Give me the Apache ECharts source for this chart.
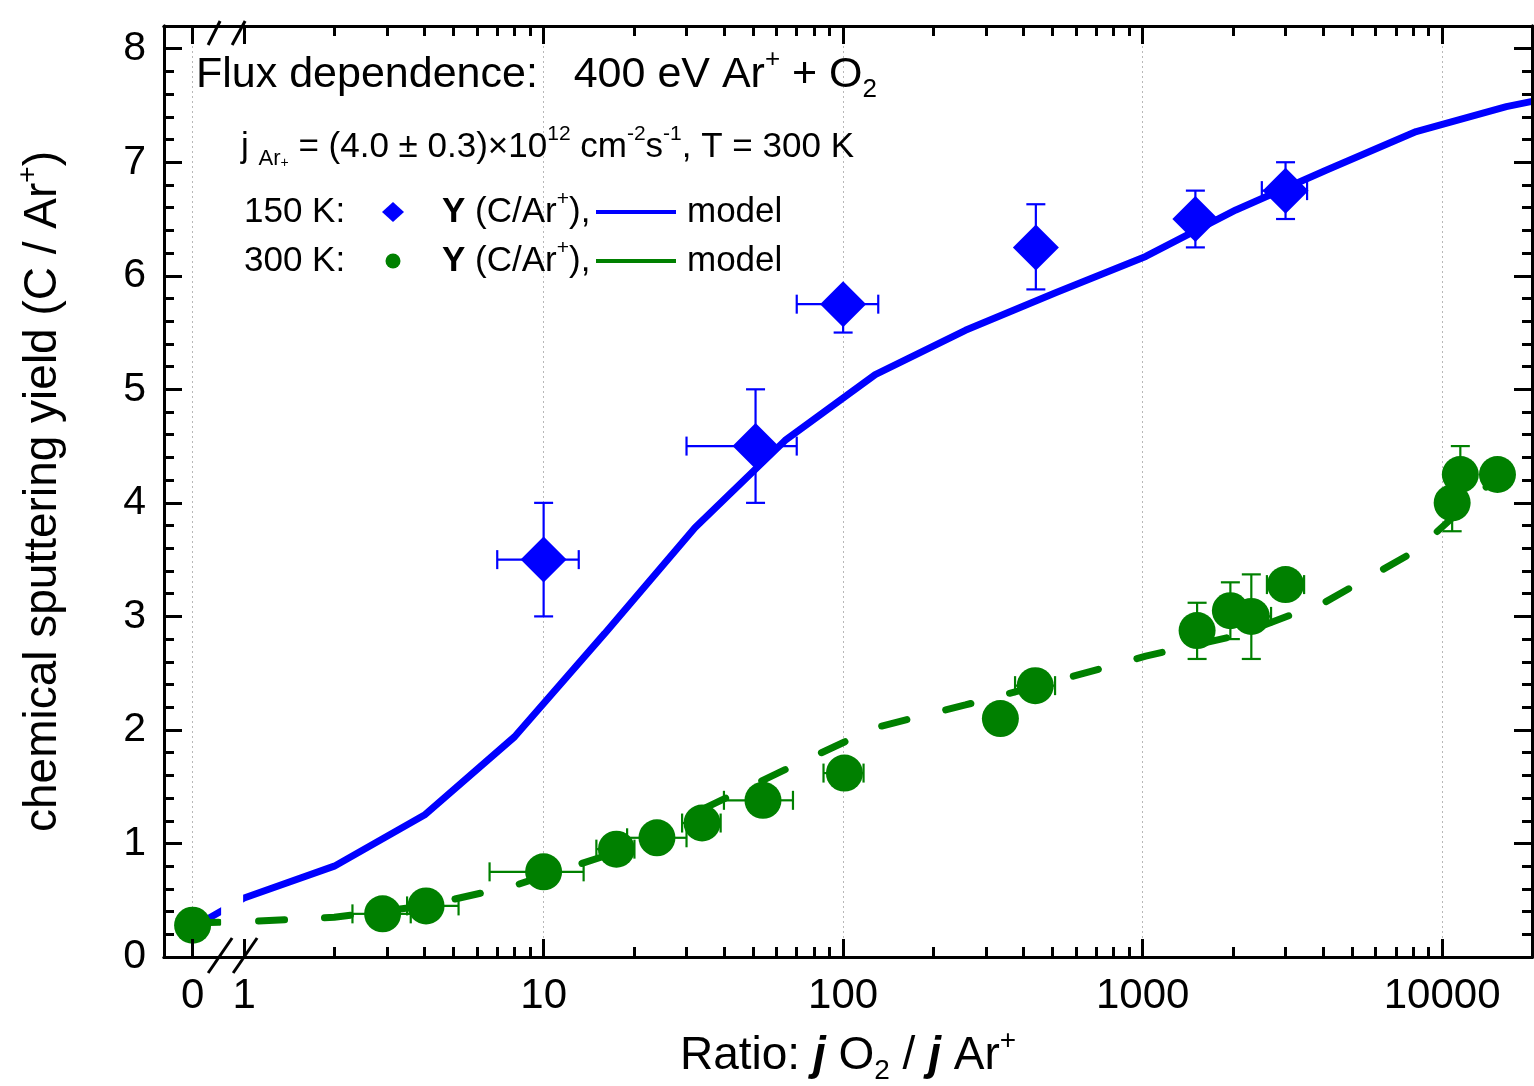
<!DOCTYPE html>
<html>
<head>
<meta charset="utf-8">
<title>Flux dependence: 400 eV Ar+ + O2</title>
<script src="https://cdn.jsdelivr.net/npm/echarts@6/dist/echarts.min.js"></script>
<style>
html, body { margin: 0; padding: 0; background: #fff; }
#main { width: 1534px; height: 1086px; }
</style>
</head>
<body>
<div id="main"></div>
<script>
// model curves, evaluated at 0 and at powers of two
var modelX   = [0, 1, 2, 4, 8, 16, 32, 64, 128, 256, 512, 1024, 2048, 4096, 8192, 16384, 32768];
var model150 = [0.26, 0.52, 0.80, 1.25, 1.94, 2.85, 3.78, 4.55, 5.13, 5.52, 5.85, 6.17, 6.58, 6.93, 7.27, 7.49, 7.65];
var model300 = [0.30, 0.31, 0.35, 0.45, 0.63, 0.89, 1.27, 1.65, 2.02, 2.22, 2.43, 2.65, 2.83, 3.13, 3.58, 4.30, 4.98];

// 150 K measurements (ratio, yield and their error ranges)
var x150   = [10, 51, 100, 440, 1500, 3000];
var y150   = [3.5, 4.5, 5.75, 6.25, 6.5, 6.75];
var x150lo = [7.0, 30, 70, 440, 1500, 2500];
var x150hi = [13.1, 70, 131, 440, 1500, 3540];
var y150lo = [3.0, 4.0, 5.5, 5.88, 6.25, 6.5];
var y150hi = [4.0, 5.0, 5.75, 6.63, 6.75, 7.0];

// 300 K measurements
var x300   = [0, 2.9, 4.05, 10, 17.5, 23.9, 33.8, 54, 101, 335, 438, 1520, 1963, 2306, 3000, 10800, 11500, 15300];
var y300   = [0.28, 0.38, 0.45, 0.75, 0.95, 1.05, 1.18, 1.38, 1.62, 2.1, 2.39, 2.875, 3.05, 3.0, 3.28, 4.0, 4.25, 4.25];
var x300lo = [0, 2.3, 3.5, 6.6, 15, 19, 29, 40, 86, 335, 375, 1520, 1963, 1980, 2600, 10800, 11500, 15300];
var x300hi = [0, 3.6, 5.2, 13.6, 20.1, 30, 39, 68, 117, 335, 510, 1520, 1963, 2684, 3460, 10800, 11500, 15300];
var y300lo = [0.28, 0.38, 0.45, 0.75, 0.95, 1.05, 1.18, 1.38, 1.62, 2.1, 2.39, 2.625, 2.80, 2.625, 3.28, 3.75, 4.25, 4.25];
var y300hi = [0.28, 0.38, 0.45, 0.75, 0.95, 1.05, 1.18, 1.38, 1.62, 2.1, 2.39, 3.12, 3.30, 3.37, 3.28, 4.0, 4.5, 4.25];

// axis ticks
var xMajorTicks = [0, 1, 10, 100, 1000, 10000];
var xGridTicks  = [0, 10, 100, 1000, 10000];
var yMajorTicks = [0, 1, 2, 3, 4, 5, 6, 7, 8];

var FONT = '"Liberation Sans", Arial, sans-serif';
var ZERO_AT = -0.172;           // position of ratio 0, in decades left of ratio 1
var X_MIN = -0.2675, X_MAX = 4.30;
var Y_MIN = 0, Y_MAX = 8.2;

// broken axis: 0 sits left of the break, the rest is log10
function lg(x) { return x === 0 ? ZERO_AT : Math.log10(x); }

var xMinorTicks = [];
[1, 10, 100, 1000].forEach(function (d) {
    for (var k = 2; k <= 9; k++) xMinorTicks.push(k * d);
});
var yMinorTicks = [];
for (var i = 0; i < 8; i++) {
    for (var k = 1; k <= 4; k++) yMinorTicks.push(+(i + k * 0.2).toFixed(1));
}

function xLabel(v) {
    for (var i = 0; i < xMajorTicks.length; i++) {
        if (Math.abs(lg(xMajorTicks[i]) - v) < 1e-6) return String(xMajorTicks[i]);
    }
    return '';
}

function frameX(position, ticks, len, withLabels) {
    return {
        type: 'value', position: position, min: X_MIN, max: X_MAX, z: 10,
        axisLine: { show: true, onZero: false, lineStyle: { color: '#000', width: 3 } },
        axisTick: { show: true, inside: true, length: len, lineStyle: { color: '#000', width: 3 },
                    customValues: ticks.map(lg) },
        axisLabel: withLabels ? {
            show: true, customValues: ticks.map(lg), formatter: xLabel,
            color: '#000', fontSize: 42, fontFamily: FONT, margin: 18
        } : { show: false },
        splitLine: { show: false }
    };
}

function frameY(position, ticks, len, withLabels) {
    return {
        type: 'value', position: position, min: Y_MIN, max: Y_MAX, z: 10,
        axisLine: { show: true, onZero: false, lineStyle: { color: '#000', width: 3 } },
        axisTick: { show: true, inside: true, length: len, lineStyle: { color: '#000', width: 3 },
                    customValues: ticks },
        axisLabel: withLabels ? {
            show: true, customValues: ticks, color: '#000', fontSize: 41, fontFamily: FONT, margin: 18
        } : { show: false },
        splitLine: { show: false }
    };
}

var xBottom = frameX('bottom', xMajorTicks, 18, true);
xBottom.name = '{m|Ratio: }{bi|j}{m| O}{sub|2}{m| / }{bi|j}{m| Ar}{sup|+}';
xBottom.nameLocation = 'middle';
xBottom.nameGap = 70;
xBottom.nameTextStyle = {
    color: '#000', fontSize: 46, fontFamily: FONT, lineHeight: 58,
    rich: {
        m: { fontSize: 46, fontFamily: FONT, lineHeight: 58, verticalAlign: 'middle' },
        bi: { fontSize: 46, fontFamily: FONT, fontWeight: 'bold', fontStyle: 'italic', lineHeight: 58, verticalAlign: 'middle' },
        sub: { fontSize: 28, fontFamily: FONT, lineHeight: 6, verticalAlign: 'bottom' },
        sup: { fontSize: 28, fontFamily: FONT, lineHeight: 20, verticalAlign: 'top' }
    }
};

var yLeft = frameY('left', yMajorTicks, 18, true);
yLeft.name = '{m|chemical sputtering yield (C / Ar}{sup|+}{m|)}';
yLeft.nameLocation = 'middle';
yLeft.nameGap = 92;
yLeft.nameTextStyle = {
    color: '#000', fontSize: 46, fontFamily: FONT, lineHeight: 58,
    rich: {
        m: { fontSize: 46, fontFamily: FONT, lineHeight: 58, verticalAlign: 'middle' },
        sup: { fontSize: 28, fontFamily: FONT, lineHeight: 20, verticalAlign: 'top' }
    }
};

var gridAxis = {
    type: 'value', position: 'bottom', min: X_MIN, max: X_MAX, z: 0,
    axisLine: { show: false },
    axisTick: { show: false, customValues: xGridTicks.map(lg) },
    axisLabel: { show: false },
    splitLine: { show: true, lineStyle: { color: '#b8b8b8', width: 1, type: [2, 3] } }
};

function pairs(xs, ys) {
    return xs.map(function (x, i) { return [lg(x), ys[i]]; });
}

function errorBars(color, xs, ys, xlo, xhi, ylo, yhi) {
    var data = xs.map(function (x, i) {
        return [lg(x), ys[i], lg(xlo[i]), lg(xhi[i]), ylo[i], yhi[i]];
    });
    return {
        type: 'custom', z: 3, silent: true,
        encode: { x: 0, y: 1 },
        renderItem: function (params, api) {
            var c = api.coord([api.value(0), api.value(1)]);
            var l = api.coord([api.value(2), api.value(1)]);
            var r = api.coord([api.value(3), api.value(1)]);
            var b = api.coord([api.value(0), api.value(4)]);
            var t = api.coord([api.value(0), api.value(5)]);
            var cap = 9.5;
            var st = { stroke: color, lineWidth: 2.2, fill: null };
            var kids = [];
            function seg(x1, y1, x2, y2) {
                kids.push({ type: 'line', shape: { x1: x1, y1: y1, x2: x2, y2: y2 }, style: st });
            }
            if (c[0] - l[0] > 1) { seg(l[0], c[1], c[0], c[1]); seg(l[0], c[1] - cap, l[0], c[1] + cap); }
            if (r[0] - c[0] > 1) { seg(c[0], c[1], r[0], c[1]); seg(r[0], c[1] - cap, r[0], c[1] + cap); }
            if (c[1] - t[1] > 1) { seg(c[0], c[1], c[0], t[1]); seg(c[0] - cap, t[1], c[0] + cap, t[1]); }
            if (b[1] - c[1] > 1) { seg(c[0], c[1], c[0], b[1]); seg(c[0] - cap, b[1], c[0] + cap, b[1]); }
            return { type: 'group', children: kids };
        },
        data: data
    };
}

var chart = echarts.init(document.getElementById('main'));

chart.setOption({
    animation: false,
    backgroundColor: '#fff',
    grid: { left: 164, right: 2, top: 26, bottom: 129, containLabel: false, outerBoundsMode: 'none' },
    xAxis: [
        xBottom,
        frameX('bottom', xMinorTicks, 10, false),
        frameX('top', xMajorTicks, 18, false),
        frameX('top', xMinorTicks, 10, false),
        gridAxis
    ],
    yAxis: [
        yLeft,
        frameY('left', yMinorTicks, 10, false),
        frameY('right', yMajorTicks, 18, false),
        frameY('right', yMinorTicks, 10, false)
    ],
    series: [
        {
            name: '150 K model', type: 'line', z: 2, symbol: 'none', clip: true,
            lineStyle: { color: '#0000ff', width: 7 },
            data: pairs(modelX, model150)
        },
        {
            name: '300 K model', type: 'line', z: 2, symbol: 'none', clip: true,
            lineStyle: { color: '#008000', width: 7, type: [26, 40], cap: 'round' },
            data: pairs(modelX, model300)
        },
        errorBars('#0000ff', x150, y150, x150lo, x150hi, y150lo, y150hi),
        errorBars('#008000', x300, y300, x300lo, x300hi, y300lo, y300hi),
        {
            name: '150 K', type: 'scatter', z: 4, symbol: 'diamond', symbolSize: 46,
            itemStyle: { color: '#0000ff', opacity: 1 },
            data: pairs(x150, y150)
        },
        {
            name: '300 K', type: 'scatter', z: 4, symbol: 'circle', symbolSize: 37,
            itemStyle: { color: '#008000', opacity: 1 },
            data: pairs(x300, y300)
        }
    ]
});

// break marks and the text block, placed from the axis scale
var xOne = chart.convertToPixel({ xAxisIndex: 0 }, lg(1));
var yBot = chart.convertToPixel({ yAxisIndex: 0 }, Y_MIN);
var yTop = chart.convertToPixel({ yAxisIndex: 0 }, Y_MAX);

var slash = { stroke: '#000', lineWidth: 3 };
var rich = {
    m: { fontSize: 35, fontFamily: FONT, lineHeight: 46, verticalAlign: 'middle' },
    b: { fontSize: 35, fontFamily: FONT, fontWeight: 'bold', lineHeight: 46, verticalAlign: 'middle' },
    sup: { fontSize: 21, fontFamily: FONT, lineHeight: 17, verticalAlign: 'top' },
    sub: { fontSize: 22, fontFamily: FONT, lineHeight: 10, verticalAlign: 'bottom' },
    subsup: { fontSize: 14, fontFamily: FONT, lineHeight: 23, verticalAlign: 'bottom' },
    tm: { fontSize: 43, fontFamily: FONT, lineHeight: 56, verticalAlign: 'middle' },
    tsup: { fontSize: 26, fontFamily: FONT, lineHeight: 26, verticalAlign: 'top' },
    tsub: { fontSize: 26, fontFamily: FONT, lineHeight: 10, verticalAlign: 'bottom' }
};
function label(x, y, text) {
    return { type: 'text', z: 20, x: x, y: y,
             style: { text: text, rich: rich, fill: '#000', font: '35px ' + FONT,
                      align: 'left', verticalAlign: 'middle' } };
}

chart.setOption({
    graphic: [
        // white band that cuts the curves at the axis break
        { type: 'rect', z: 5, shape: { x: xOne - 23, y: yTop + 2, width: 22, height: yBot - yTop - 4 },
          style: { fill: '#fff' } },
        { type: 'line', z: 12, shape: { x1: xOne - 36, y1: yBot + 16, x2: xOne - 12, y2: yBot - 19 }, style: slash },
        { type: 'line', z: 12, shape: { x1: xOne - 11, y1: yBot + 16, x2: xOne + 13, y2: yBot - 19 }, style: slash },
        { type: 'line', z: 12, shape: { x1: xOne - 36, y1: yTop + 19, x2: xOne - 24, y2: yTop - 5 }, style: slash },
        { type: 'line', z: 12, shape: { x1: xOne - 12, y1: yTop + 19, x2: xOne + 1, y2: yTop - 5 }, style: slash },

        label(196, 75, '{tm|Flux dependence:   400 eV Ar}{tsup|+}{tm| + O}{tsub|2}'),
        label(241, 147, '{m|j }{sub|Ar}{subsup|+}{m| = (4.0 ± 0.3)×10}{sup|12}{m| cm}{sup|-2}{m|s}{sup|-1}{m|, T = 300 K}'),

        label(244, 212, '{m|150 K:}'),
        { type: 'polygon', z: 20, shape: { points: [[393, 202], [404, 212], [393, 222], [382, 212]] },
          style: { fill: '#0000ff' } },
        label(442, 212, '{b|Y}{m| (C/Ar}{sup|+}{m|),}'),
        { type: 'line', z: 20, shape: { x1: 596, y1: 212, x2: 676, y2: 212 },
          style: { stroke: '#0000ff', lineWidth: 4 } },
        label(687, 212, '{m|model}'),

        label(244, 261, '{m|300 K:}'),
        { type: 'circle', z: 20, shape: { cx: 393, cy: 261, r: 7.5 }, style: { fill: '#008000' } },
        label(442, 261, '{b|Y}{m| (C/Ar}{sup|+}{m|),}'),
        { type: 'line', z: 20, shape: { x1: 596, y1: 261, x2: 676, y2: 261 },
          style: { stroke: '#008000', lineWidth: 4 } },
        label(687, 261, '{m|model}')
    ]
});
</script>
</body>
</html>
